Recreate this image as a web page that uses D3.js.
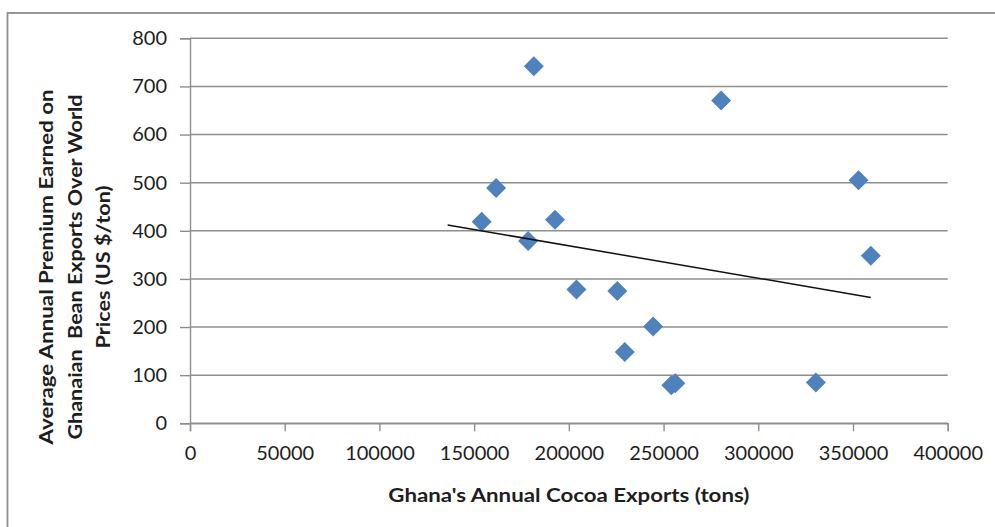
<!DOCTYPE html>
<html>
<head>
<meta charset="utf-8">
<script src="https://cdn.jsdelivr.net/npm/d3@7"></script>
<style>
  html, body { margin: 0; padding: 0; background: #fff; overflow: hidden; }
  text { font-family: Lato, "Liberation Sans", sans-serif; }
</style>
</head>
<body>
<svg id="chart" width="995" height="527"></svg>
<script>
// Ghana cocoa: annual export volume vs. average premium over world prices
const exportsTons = [181500, 280400, 161600, 352900, 154000, 192700, 178500, 359400,
                     204000, 225600, 244500, 229500, 254100, 256200, 330400];
const premiumUsd  = [742, 671, 489, 505, 419, 423, 379, 348,
                     278, 275, 201, 148, 79, 83, 85];
const xTickValues = [0, 50000, 100000, 150000, 200000, 250000, 300000, 350000, 400000];
const yTickValues = [0, 100, 200, 300, 400, 500, 600, 700, 800];
const trendFrom = 136000;   // linear trend projected backward to this export volume

const xTitle = "Ghana's Annual Cocoa Exports (tons)";
const yTitleLines = ["Average Annual Premium Earned on",
                     "Ghanaian  Bean Exports Over World",
                     "Prices (US $/ton)"];

const svg = d3.select("#chart");
const W = 995, H = 527;
const plot = { left: 190, right: 947.7, top: 38.3, bottom: 423.3 };
const gridColor = "#8e8e8e";
const pointColor = "#4f81bd";

const x = d3.scaleLinear().domain([0, 400000]).range([plot.left, plot.right]);
const y = d3.scaleLinear().domain([0, 800]).range([plot.bottom, plot.top]);

// outer chart frame (continues past the right and bottom edges)
svg.append("rect")
  .attr("x", 7.5).attr("y", 13).attr("width", W + 20).attr("height", H + 20)
  .attr("fill", "#fff").attr("stroke", "#8c8c8c").attr("stroke-width", 1.8);

// horizontal gridlines
svg.append("g").selectAll("line").data(yTickValues).join("line")
  .attr("x1", plot.left).attr("x2", plot.right)
  .attr("y1", d => y(d)).attr("y2", d => y(d))
  .attr("stroke", gridColor).attr("stroke-width", 1.4);

// y axis
const yAxis = svg.append("g")
  .attr("transform", `translate(${plot.left},0)`)
  .call(d3.axisLeft(y).tickValues(yTickValues).tickSize(10).tickPadding(13).tickFormat(d3.format("d")));
yAxis.select(".domain").attr("stroke", gridColor).attr("stroke-width", 1.4);
yAxis.selectAll(".tick line").attr("stroke", gridColor).attr("stroke-width", 1.4);
yAxis.selectAll(".tick text")
  .attr("font-size", 20).attr("fill", "#1e1e1e")
  .attr("font-family", "Lato, 'Liberation Sans', sans-serif");

// x axis
const xAxis = svg.append("g")
  .attr("transform", `translate(0,${plot.bottom})`)
  .call(d3.axisBottom(x).tickValues(xTickValues).tickSize(8).tickPadding(15).tickFormat(d3.format("d")));
xAxis.select(".domain").attr("stroke", gridColor).attr("stroke-width", 1.4);
xAxis.selectAll(".tick line").attr("stroke", gridColor).attr("stroke-width", 1.4);
xAxis.selectAll(".tick text")
  .attr("font-size", 20).attr("fill", "#1e1e1e")
  .attr("font-family", "Lato, 'Liberation Sans', sans-serif");

// data points as diamonds
const pts = exportsTons.map((v, i) => ({ x: v, y: premiumUsd[i] }));
svg.append("g").selectAll("path").data(pts).join("path")
  .attr("d", d3.symbol(d3.symbolSquare, 200)())
  .attr("transform", d => `translate(${x(d.x)},${y(d.y)}) rotate(45)`)
  .attr("fill", pointColor);

// least-squares linear trend line
const mx = d3.mean(exportsTons), my = d3.mean(premiumUsd);
const sxy = d3.sum(pts, d => (d.x - mx) * (d.y - my));
const sxx = d3.sum(pts, d => (d.x - mx) * (d.x - mx));
const slope = sxy / sxx, intercept = my - slope * mx;
const trendX = [trendFrom, d3.max(exportsTons)];
svg.append("path")
  .datum(trendX.map(v => [v, intercept + slope * v]))
  .attr("d", d3.line().x(d => x(d[0])).y(d => y(d[1])))
  .attr("fill", "none").attr("stroke", "#111").attr("stroke-width", 1.5);

// axis titles
svg.append("text")
  .attr("x", (plot.left + plot.right) / 2).attr("y", 501.5)
  .attr("text-anchor", "middle").attr("font-size", 19).attr("font-weight", "bold")
  .attr("fill", "#1e1e1e").style("white-space", "pre")
  .attr("textLength", 361).attr("lengthAdjust", "spacingAndGlyphs")
  .text(xTitle);

const yTitle = svg.append("text")
  .attr("transform", "translate(75,267) rotate(-90)")
  .attr("text-anchor", "middle").attr("font-size", 19).attr("font-weight", "bold")
  .attr("fill", "#1e1e1e").style("white-space", "pre");
const yLens = [355, 345, 163];
yTitleLines.forEach((line, i) => {
  yTitle.append("tspan")
    .attr("x", 0).attr("y", (i - 1) * 28.3 + 6.5)
    .attr("textLength", yLens[i]).attr("lengthAdjust", "spacingAndGlyphs")
    .text(line);
});
</script>
</body>
</html>
